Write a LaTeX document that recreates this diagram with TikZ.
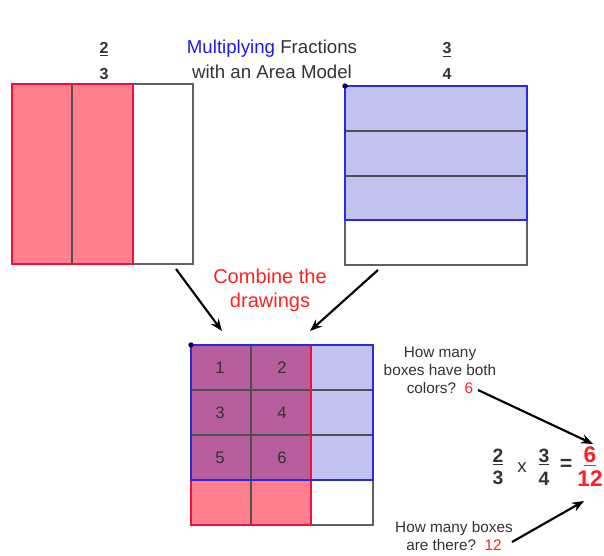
\documentclass[tikz,border=0pt]{standalone}
\usepackage{fontspec}
\setmainfont{Liberation Sans}
\usetikzlibrary{arrows.meta}
\definecolor{pinkfill}{HTML}{FF7F8F}
\definecolor{redline}{HTML}{F0103A}
\definecolor{bluefill}{HTML}{C2C2F0}
\definecolor{blueline}{HTML}{2A2AE0}
\definecolor{purplefill}{HTML}{B85E9F}
\definecolor{gridline}{HTML}{505050}
\definecolor{outline}{HTML}{606060}
\definecolor{txtred}{HTML}{FF2020}
\definecolor{txtblue}{HTML}{1A1AF0}
\definecolor{txtgray}{HTML}{333333}
\tikzset{
  gline/.style={draw=gridline, line width=0.8pt},
  oline/.style={draw=outline, line width=0.9pt},
  rline/.style={draw=redline, line width=1.3pt},
  bline/.style={draw=blueline, line width=1.3pt},
  arr/.style={-{Stealth[length=9pt,width=7pt]}, line width=1.6pt, black},
  frac/.style={font=\bfseries\fontsize{12}{16}\selectfont, text=txtgray, align=center, inner sep=0pt},
  efrac/.style={font=\bfseries\fontsize{14.5}{15}\selectfont, text=txtgray, align=center, inner sep=0pt},
  qtext/.style={font=\fontsize{11.5}{13.5}\selectfont, text=txtgray, align=center, inner sep=1pt},
  cellnum/.style={font=\fontsize{12.5}{14}\selectfont, text=txtgray, inner sep=0pt},
  dotmark/.style={circle, fill=black!70!blue, inner sep=0pt, minimum size=4pt}
}
\begin{document}
\begin{tikzpicture}[x=0.75pt, y=-0.75pt]
\useasboundingbox (0,0) rectangle (604,556);

% Title
\node[font=\fontsize{14}{19}\selectfont, text=txtgray, align=center] (title) at (272,59)
  {\textcolor{txtblue}{Multiplying} Fractions\\with an Area Model};

% Fraction labels
\node[frac] (fa) at (104,61) {\underline{2}\\[3pt]3};
\node[frac] (fb) at (447,61) {\underline{3}\\[3pt]4};

% Left area model: 2/3
\fill[pinkfill] (12,84) rectangle (133,264);
\draw[oline] (12,84) rectangle (193,264);
\draw[gline] (72,84) -- (72,264);
\draw[rline] (12,84) rectangle (133,264);
\coordinate (lA) at (176,269);

% Right area model: 3/4
\fill[bluefill] (345,86) rectangle (527,220);
\draw[oline] (345,86) rectangle (527,265);
\draw[gline] (345,131) -- (527,131);
\draw[gline] (345,176) -- (527,176);
\draw[bline] (345,86) rectangle (527,220);
\node[dotmark] (dotA) at (345,86) {};
\coordinate (rA) at (378,270);

% Combine text
\node[font=\fontsize{15}{18}\selectfont, text=txtred, align=center] (comb) at (270,290)
  {Combine the\\drawings};

% Combined grid
\fill[purplefill] (191,345) rectangle (311,480);
\fill[pinkfill] (191,480) rectangle (311,525);
\fill[bluefill] (311,345) rectangle (373,480);
\draw[oline] (191,345) rectangle (373,525);
\draw[gline] (251,345) -- (251,525);
\draw[gline] (191,390) -- (373,390);
\draw[gline] (191,435) -- (373,435);
\draw[rline] (191,345) rectangle (311,525);
\draw[bline] (191,345) rectangle (373,480);
\node[dotmark] (dotB) at (191,345) {};
\coordinate (lB) at (222,331);
\coordinate (rB) at (310,331);

\node[cellnum] (c1) at (220,368) {1};
\node[cellnum] (c2) at (282,368) {2};
\node[cellnum] (c3) at (220,413) {3};
\node[cellnum] (c4) at (282,413) {4};
\node[cellnum] (c5) at (220,458) {5};
\node[cellnum] (c6) at (282,458) {6};

\draw[arr] (lA) -- (lB);
\draw[arr] (rA) -- (rB);

% Questions
\node[qtext] (q1) at (440,370)
  {How many\\boxes have both\\colors?\ \ \textcolor{txtred}{6}};
\node[qtext] (q2) at (454,536)
  {How many boxes\\are there?\ \ \textcolor{txtred}{12}};

% Equation
\node[efrac] (e1) at (498,467) {\underline{2}\\[2pt]3};
\node[font=\fontsize{14}{14}\selectfont, text=txtgray] (ex) at (522,468) {x};
\node[efrac] (e2) at (544,467) {\underline{3}\\[2pt]4};
\node[font=\bfseries\fontsize{16}{16}\selectfont, text=txtgray] (eq) at (566,465) {=};
\node[font=\bfseries\fontsize{17}{17}\selectfont, text=txtred, align=center, inner sep=0pt] (res) at (590,467)
  {\underline{6}\\[1pt]12};

\coordinate (q1e) at (478,390);
\coordinate (q2e) at (512,542);
\draw[arr] (q1e) -- (593,444);
\draw[arr] (q2e) -- (584,501);
\end{tikzpicture}
\end{document}
